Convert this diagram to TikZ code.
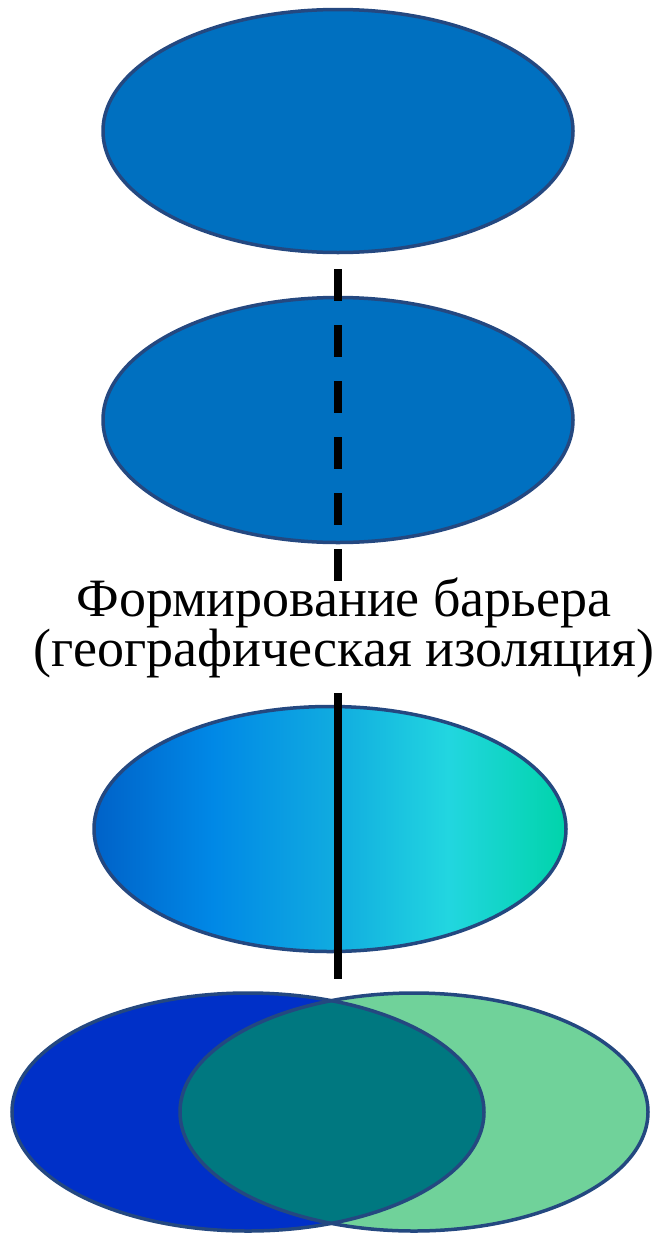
\documentclass[tikz,border=0pt]{standalone}
\usepackage{fontspec}
\setmainfont{Liberation Serif}
\usetikzlibrary{positioning,shapes.geometric}

\definecolor{popblue}{RGB}{0,112,192}
\definecolor{rimblue}{RGB}{36,72,128}
\definecolor{leftblue}{RGB}{0,48,200}
\definecolor{rightgreen}{RGB}{112,210,154}
\definecolor{mixteal}{RGB}{0,120,128}
\definecolor{grad1}{RGB}{0,98,200}
\definecolor{grad2}{RGB}{0,136,230}
\definecolor{grad3}{RGB}{16,170,224}
\definecolor{grad4}{RGB}{34,214,224}
\definecolor{grad5}{RGB}{0,212,170}
\pgfdeclarehorizontalshading{barrier}{100bp}{color(0bp)=(grad1); color(25bp)=(grad1);
  color(37.5bp)=(grad2); color(50bp)=(grad3); color(62.5bp)=(grad4); color(75bp)=(grad5);
  color(100bp)=(grad5)}

\begin{document}
\begin{tikzpicture}[x=1pt, y=-1pt,
  popnode/.style={ellipse, draw=rimblue, line width=3.5pt, inner sep=0pt,
    minimum width=470pt, minimum height=243pt},
  barrierline/.style={line width=8pt, black},
  caption/.style={font=\fontsize{54}{48}\selectfont, align=center, anchor=base, inner sep=0pt}]
\useasboundingbox (0,0) rectangle (652,1237);
% one population, then the barrier forms
\node[popnode, fill=popblue] (pop1) at (338,131) {};
\node[popnode, fill=popblue, minimum height=245pt] (pop2) at (338,420) {};
\coordinate (dashtop) at (338,269);
\coordinate (dashend) at (338,582);
\draw[barrierline, dash pattern=on 32pt off 24pt] (dashtop) -- (dashend);
\node[caption] (title) at (344,666) {Формирование барьера\\(географическая изоляция)};
% isolated halves
\node[popnode, shading=barrier, minimum width=472pt, minimum height=245pt] (pop3) at (330,829) {};
\coordinate (walltop) at (338,693);
\coordinate (wallend) at (338,979);
\draw[barrierline] (walltop) -- (wallend);
% two species
\node[ellipse, fill=leftblue, inner sep=0pt, minimum width=472pt, minimum height=238pt] (popA) at (248,1112) {};
\node[ellipse, fill=rightgreen, inner sep=0pt, minimum width=468pt, minimum height=238pt] (popB) at (414,1112) {};
\begin{scope}
  \clip (popA.center) ellipse [x radius=236, y radius=119];
  \fill[mixteal] (popB.center) ellipse [x radius=234, y radius=119];
\end{scope}
\draw[rimblue, line width=3.5pt] (popA.center) ellipse [x radius=236, y radius=119];
\draw[rimblue, line width=3.5pt] (popB.center) ellipse [x radius=234, y radius=119];
\end{tikzpicture}
\end{document}
